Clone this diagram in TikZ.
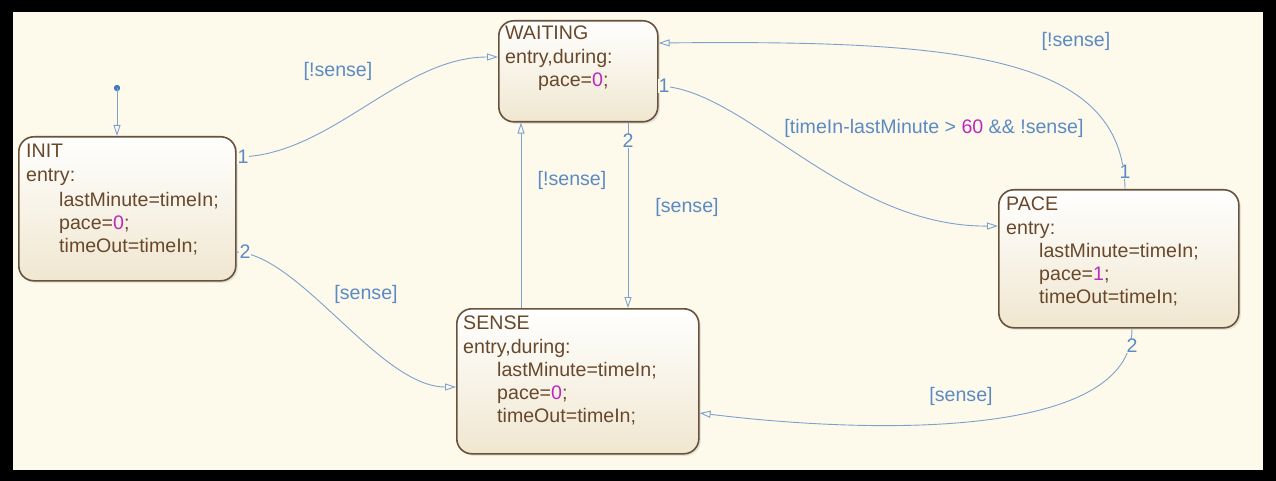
\documentclass[tikz,border=0pt]{standalone}
\usepackage{fontspec}
\setmainfont{Liberation Sans}
\usetikzlibrary{arrows.meta,calc,shadows}
\definecolor{bgc}{RGB}{253,250,236}
\definecolor{brd}{RGB}{105,82,60}
\definecolor{txtc}{RGB}{105,72,42}
\definecolor{edgec}{RGB}{125,160,205}
\definecolor{lblc}{RGB}{92,138,195}
\definecolor{mag}{RGB}{190,40,190}
\definecolor{boxbot}{RGB}{240,231,208}
\definecolor{dotc}{RGB}{70,120,190}
\begin{document}
\begin{tikzpicture}[x=1pt,y=-1pt,
  statebox/.style={draw=brd,line width=1.6pt,rounded corners=15pt,anchor=north west,
    top color=white,bottom color=boxbot,inner sep=0pt,
    drop shadow={opacity=0.18,shadow xshift=2pt,shadow yshift=-2pt}},
  txt/.style={anchor=base west,inner sep=0pt,text=txtc,font=\fontsize{19.6}{23}\selectfont},
  lbl/.style={inner sep=0pt,text=lblc,font=\fontsize{19.6}{23}\selectfont},
  num/.style={inner sep=0.5pt,fill=bgc,text=lblc,font=\fontsize{19.6}{23}\selectfont},
  tr/.style={draw=edgec,line width=0.9pt,-{Triangle[open,length=11pt,width=7pt]}}]
\useasboundingbox (0,0) rectangle (1276,481);
\fill[black] (0,0) rectangle (1276,481);
\fill[bgc] (13,12) rectangle (1263,470);

% states
\node[statebox,minimum width=217pt,minimum height=144pt] (init) at (18,136) {};
\node[statebox,minimum width=159pt,minimum height=101pt] (wait) at (498,20) {};
\node[statebox,minimum width=242pt,minimum height=145pt] (sense) at (456,308) {};
\node[statebox,minimum width=240pt,minimum height=138pt] (pace) at (998,189) {};

% INIT text
\node[txt] (i1) at (26,158) {INIT};
\node[txt] (i2) at (26,182) {entry:};
\node[txt] (i3) at (59,206) {lastMinute=timeIn;};
\node[txt] (i4) at (59,229) {pace=\textcolor{mag}{0};};
\node[txt] (i5) at (59,252) {timeOut=timeIn;};
% WAITING text
\node[txt] (w1) at (505,40) {WAITING};
\node[txt] (w2) at (505,64) {entry,during:};
\node[txt] (w3) at (538,87) {pace=\textcolor{mag}{0};};
% SENSE text
\node[txt] (s1) at (463,329) {SENSE};
\node[txt] (s2) at (463,353) {entry,during:};
\node[txt] (s3) at (497,376) {lastMinute=timeIn;};
\node[txt] (s4) at (497,399) {pace=\textcolor{mag}{0};};
\node[txt] (s5) at (497,422) {timeOut=timeIn;};
% PACE text
\node[txt] (p1) at (1006,211) {PACE};
\node[txt] (p2) at (1006,234) {entry:};
\node[txt] (p3) at (1039,257) {lastMinute=timeIn;};
\node[txt] (p4) at (1039,280) {pace=\textcolor{mag}{1};};
\node[txt] (p5) at (1039,303) {timeOut=timeIn;};

% default transition
\coordinate (s0) at (117,88);
\fill[dotc] (s0) circle (3.2);
\draw[tr] (s0) -- (s0 |- init.north);

% INIT -> WAITING
\draw[tr] ($(init.north east)+(0,21)$) .. controls (330,157) and (400,57) .. ($(wait.north west)+(0,37)$);
\node[num] (n1) at (243,157) {1};
\node[lbl] (l1) at (338,71) {[!sense]};

% INIT -> SENSE
\draw[tr] ($(init.north east)+(0,116)$) .. controls (300,255) and (380,387) .. ($(sense.north west)+(0,79)$);
\node[num] (n2) at (245,252) {2};
\node[lbl] (l2) at (366,294) {[sense]};

% WAITING -> PACE
\draw[tr] ($(wait.north east)+(0,66)$) .. controls (745,88) and (845,227) .. ($(pace.north west)+(0,37)$);
\node[num] (n3) at (664,86) {1};
\node[lbl] (l3) at (934,128) {[timeIn-lastMinute > \textcolor{mag}{60} \&\& !sense]};

% PACE -> WAITING
\draw[tr] ($(pace.north west)+(127,0)$) .. controls (1123,55) and (960,40) .. ($(wait.north east)+(0,23)$);
\node[num] (n4) at (1125,172) {1};
\node[lbl] (l4) at (1076,41) {[!sense]};

% WAITING -> SENSE
\draw[tr] ($(wait.south west)+(130,0)$) -- ($(sense.north west)+(172,0)$);
\node[num] (n5) at (628,141) {2};
\node[lbl] (l5) at (687,207) {[sense]};

% SENSE -> WAITING
\draw[tr] ($(sense.north west)+(65,0)$) -- ($(wait.south west)+(23,0)$);
\node[lbl] (l6) at (572,180) {[!sense]};

% PACE -> SENSE
\draw[tr] ($(pace.south west)+(134,0)$) .. controls (1132,440) and (870,434) .. ($(sense.north east)+(0,105)$);
\node[num] (n6) at (1132,346) {2};
\node[lbl] (l7) at (961,396) {[sense]};
\end{tikzpicture}
\end{document}
